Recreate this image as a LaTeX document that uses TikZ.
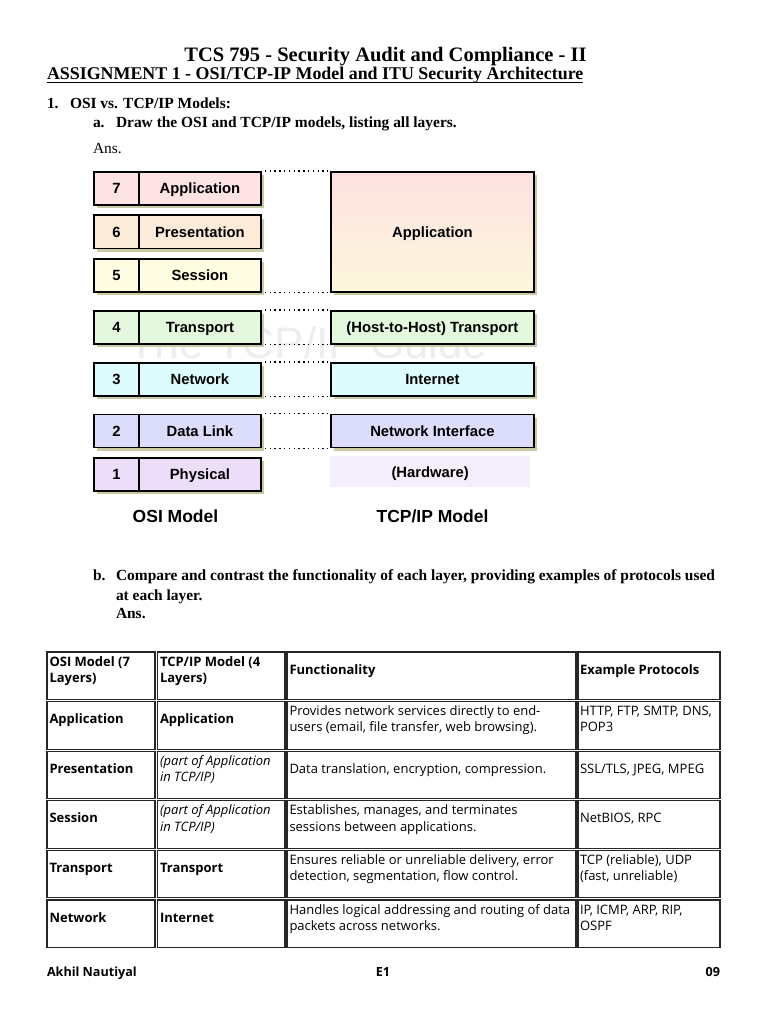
\documentclass[tikz,border=0pt]{standalone}
\usepackage{fontspec}
\setmainfont{Liberation Serif}
\newfontfamily\arialf{Liberation Sans}
\newfontfamily\tabf{Open Sans}
\usetikzlibrary{shadows}
\definecolor{cseven}{HTML}{FDE3E3}
\definecolor{csix}{HTML}{FDEBDA}
\definecolor{cfive}{HTML}{FEFDE1}
\definecolor{cfour}{HTML}{E3F8DD}
\definecolor{cthree}{HTML}{DCFCFD}
\definecolor{ctwo}{HTML}{DCDCFB}
\definecolor{cone}{HTML}{ECDDF8}
\definecolor{chw}{HTML}{F5EEFC}
\definecolor{capptop}{HTML}{FDE1E1}
\definecolor{cappbot}{HTML}{FDF7DC}
\definecolor{shadowc}{HTML}{C9C9A3}
\definecolor{wmark}{HTML}{EEEEEE}
\tikzset{
  txt/.style={anchor=base west, inner sep=0pt, outer sep=0pt},
  ctxt/.style={anchor=base, inner sep=0pt, outer sep=0pt},
  hbig/.style={font=\bfseries\fontsize{20.5}{24}\selectfont},
  hmid/.style={font=\bfseries\fontsize{17.9}{21}\selectfont},
  hbody/.style={font=\bfseries\fontsize{15.45}{18}\selectfont},
  rbody/.style={font=\fontsize{15.45}{18}\selectfont},
  boxshadow/.style={drop shadow={shadow xshift=3.5pt, shadow yshift=-3.5pt, fill=shadowc, opacity=1}},
  boxfont/.style={font=\arialf\bfseries\fontsize{14.8}{16}\selectfont, text height=10.6pt, text depth=0pt},
  layerbox/.style={draw=black, line width=1.8pt, inner sep=0pt, minimum height=33pt, anchor=north west, boxshadow, boxfont},
  dotline/.style={line width=1.1pt, dash pattern=on 1.3pt off 3.5pt, shorten <=3pt, shorten >=2pt},
  cellbox/.style={draw=black!85, line width=1.1pt},
  tt/.style={txt, font=\tabf\fontsize{13}{15}\selectfont},
  tb/.style={txt, font=\tabf\bfseries\fontsize{13}{15}\selectfont},
  ti/.style={txt, font=\tabf\itshape\fontsize{13}{15}\selectfont},
  foot/.style={inner sep=0pt, outer sep=0pt, font=\tabf\bfseries\fontsize{12.6}{15}\selectfont},
}
\newcommand\osirow[5]{%
  \node[layerbox, fill=#5, minimum width=45pt] (n#1) at (93,#4) {#2};
  \node[layerbox, fill=#5, minimum width=122pt] (o#1) at (138,#4) {#3};
}
\begin{document}
\begin{tikzpicture}[x=1pt,y=-1pt]
\useasboundingbox (0,0) rectangle (768,1024);
\fill[white] (0,0) rectangle (768,1024);
% header
\node[ctxt, hbig] (title) at (385.5,62) {TCS 795 - Security Audit and Compliance - II};
\node[txt, hmid] (asg) at (47,79.5) {ASSIGNMENT 1 - OSI/TCP-IP Model and ITU Security Architecture};
\draw[line width=1.1pt] ([yshift=-2.8pt]asg.base west) -- ([yshift=-2.8pt]asg.base east);
\node[txt, hbody] (q1n) at (47,108.3) {1.};
\node[txt, hbody] (q1) at (70,108.3) {OSI vs. TCP/IP Models:};
\node[txt, hbody] (qan) at (93,127.3) {a.};
\node[txt, hbody] (qa) at (116,127.3) {Draw the OSI and TCP/IP models, listing all layers.};
\node[txt, rbody] (ansa) at (93,154) {Ans.};
% watermark
\node[txt, text=wmark, font=\arialf\fontsize{44}{48}\selectfont] (wm) at (128,358) {The TCP/IP Guide};
% OSI layers
\osirow{7}{7}{Application}{171}{cseven}
\osirow{6}{6}{Presentation}{214.5}{csix}
\osirow{5}{5}{Session}{258}{cfive}
\osirow{4}{4}{Transport}{310}{cfour}
\osirow{3}{3}{Network}{362}{cthree}
\osirow{2}{2}{Data Link}{413.5}{ctwo}
\osirow{1}{1}{Physical}{457}{cone}
% TCP/IP layers
\node[layerbox, minimum width=203pt, minimum height=120pt, top color=capptop, bottom color=cappbot] (tapp) at (330,171) {Application};
\node[layerbox, fill=cfour, minimum width=203pt] (ttr) at (330,310) {(Host-to-Host) Transport};
\node[layerbox, fill=cthree, minimum width=203pt] (tin) at (330,362) {Internet};
\node[layerbox, fill=ctwo, minimum width=203pt] (tni) at (330,413.5) {Network Interface};
\node[fill=chw, minimum width=200pt, minimum height=31pt, anchor=north west, inner sep=0pt, boxfont] (thw) at (330,456) {(Hardware)};
% dotted connectors
\draw[dotline] (o7.north east) -- (tapp.north west);
\draw[dotline] (o5.south east) -- (tapp.south west);
\draw[dotline] (o4.north east) -- (ttr.north west);
\draw[dotline] (o4.south east) -- (ttr.south west);
\draw[dotline] (o3.north east) -- (tin.north west);
\draw[dotline] (o3.south east) -- (tin.south west);
\draw[dotline] (o2.north east) -- (tni.north west);
\draw[dotline] (o2.south east) -- (tni.south west);
% model labels
\node[ctxt, font=\arialf\bfseries\fontsize{17.5}{20}\selectfont] (osil) at (175.5,522.3) {OSI Model};
\node[ctxt, font=\arialf\bfseries\fontsize{17.5}{20}\selectfont] (tcpl) at (432.5,522.3) {TCP/IP Model};
% part b
\node[txt, hbody] (qbn) at (93,580.7) {b.};
\node[txt, hbody] (qb1) at (116,580.7) {Compare and contrast the functionality of each layer, providing examples of protocols used};
\node[txt, hbody] (qb2) at (116,600) {at each layer.};
\node[txt, hbody] (ansb) at (116,618.3) {Ans.};
% table cells
\foreach \t in {652,701.6,751.2,800.8,850.4,900}{
  \draw[cellbox] (47,\t) rectangle (155,\t+47.5);
  \draw[cellbox] (157.5,\t) rectangle (285,\t+47.5);
  \draw[cellbox] (287,\t) rectangle (576,\t+47.5);
  \draw[cellbox] (578,\t) rectangle (720,\t+47.5);
}
% header row
\node[tb] (h1a) at (49.5,666) {OSI Model (7};
\node[tb] (h1b) at (49.5,682.3) {Layers)};
\node[tb] (h2a) at (160,666) {TCP/IP Model (4};
\node[tb] (h2b) at (160,682.3) {Layers)};
\node[tb] (h3) at (289.5,674) {Functionality};
\node[tb] (h4) at (580,674) {Example Protocols};
% row 1
\node[tb] (a1) at (49.5,723.6) {Application};
\node[tb] (a2) at (160,723.6) {Application};
\node[tt] (a3a) at (289.5,715.6) {Provides network services directly to end-};
\node[tt] (a3b) at (289.5,731.9) {users (email, file transfer, web browsing).};
\node[tt] (a4a) at (580,715.6) {HTTP, FTP, SMTP, DNS,};
\node[tt] (a4b) at (580,731.9) {POP3};
% row 2
\node[tb] (p1) at (49.5,773.2) {Presentation};
\node[ti] (p2a) at (160,765.2) {(part of Application};
\node[ti] (p2b) at (160,781.5) {in TCP/IP)};
\node[tt] (p3) at (289.5,773.2) {Data translation, encryption, compression.};
\node[tt] (p4) at (580,773.2) {SSL/TLS, JPEG, MPEG};
% row 3
\node[tb] (s1) at (49.5,822.8) {Session};
\node[ti] (s2a) at (160,814.8) {(part of Application};
\node[ti] (s2b) at (160,831.1) {in TCP/IP)};
\node[tt] (s3a) at (289.5,814.8) {Establishes, manages, and terminates};
\node[tt] (s3b) at (289.5,831.1) {sessions between applications.};
\node[tt] (s4) at (580,822.8) {NetBIOS, RPC};
% row 4
\node[tb] (r1) at (49.5,872.4) {Transport};
\node[tb] (r2) at (160,872.4) {Transport};
\node[tt] (r3a) at (289.5,864.4) {Ensures reliable or unreliable delivery, error};
\node[tt] (r3b) at (289.5,880.7) {detection, segmentation, flow control.};
\node[tt] (r4a) at (580,864.4) {TCP (reliable), UDP};
\node[tt] (r4b) at (580,880.7) {(fast, unreliable)};
% row 5
\node[tb] (w1) at (49.5,922) {Network};
\node[tb] (w2) at (160,922) {Internet};
\node[tt] (w3a) at (289.5,914) {Handles logical addressing and routing of data};
\node[tt] (w3b) at (289.5,930.3) {packets across networks.};
\node[tt] (w4a) at (580,914) {IP, ICMP, ARP, RIP,};
\node[tt] (w4b) at (580,930.3) {OSPF};
% footer
\node[foot, anchor=base west] (f1) at (47,976) {Akhil Nautiyal};
\node[foot, anchor=base] (f2) at (383,976) {E1};
\node[foot, anchor=base east] (f3) at (720,976) {09};
\end{tikzpicture}
\end{document}
